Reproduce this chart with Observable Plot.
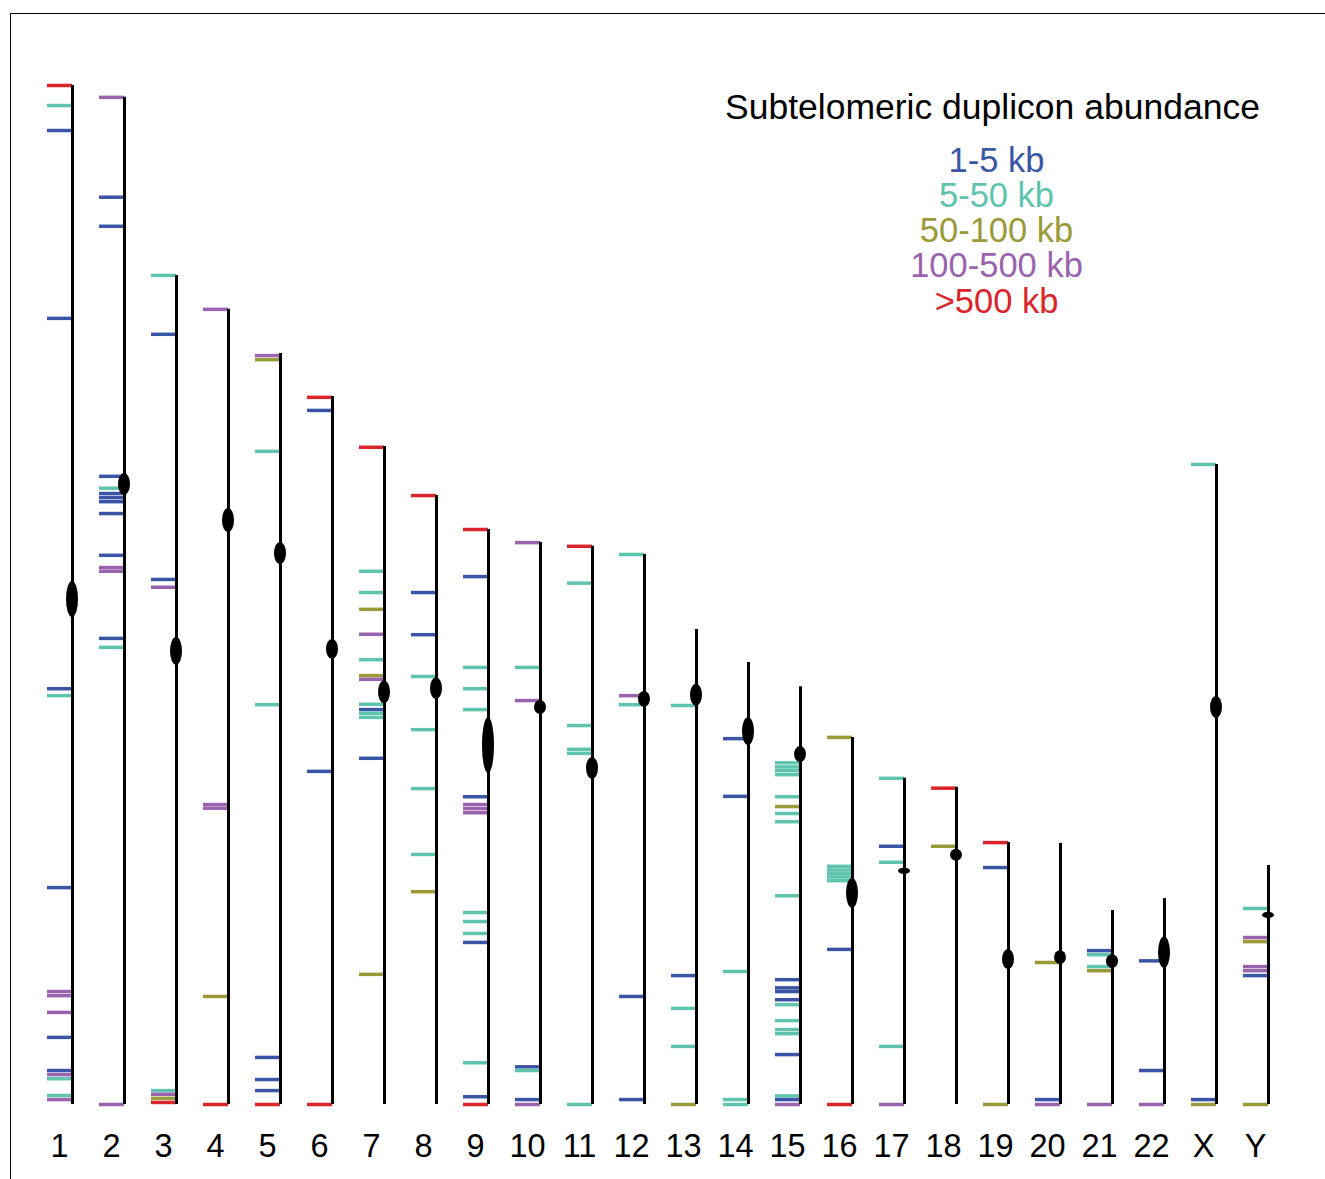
<!DOCTYPE html>
<html><head><meta charset="utf-8">
<script src="https://cdn.jsdelivr.net/npm/d3@7"></script>
<script src="https://cdn.jsdelivr.net/npm/@observablehq/plot@0.6"></script>
<style>
html,body{margin:0;padding:0;background:#fff;}
#wrap{position:relative;width:1325px;height:1179px;overflow:hidden;}
#frame{position:absolute;left:10px;top:13px;right:-5px;bottom:-5px;border-left:1px solid #000;border-top:1px solid #000;pointer-events:none;}
</style></head><body><div id="wrap"><div id="frame"></div></div>
<script>
// Chromosomes, lengths (Mb) and centromeres (position from p-ter, span, Mb)
const chromosomes = ["1","2","3","4","5","6","7","8","9","10","11","12","13","14","15","16","17","18","19","20","21","22","X","Y"];
const lengths = [249.0, 246.1, 202.6, 194.3, 183.5, 173.0, 160.8, 148.8, 140.5, 137.3, 136.4, 134.4, 116.1, 108.0, 102.1, 89.7, 79.7, 77.5, 64.0, 63.8, 47.4, 50.3, 156.4, 58.4];
const centromerePos = [125.6, 94.6, 91.9, 51.6, 48.9, 61.8, 60.1, 47.2, 52.8, 40.3, 54.3, 35.4, 16.1, 16.9, 16.6, 38.1, 22.7, 16.6, 28.6, 27.9, 12.5, 13.2, 59.4, 12.2];
const centromereSpan = [8.8, 5.4, 6.8, 5.9, 5.4, 4.9, 5.6, 5.4, 13.7, 3.4, 5.4, 3.9, 5.4, 6.8, 3.9, 7.3, 1.5, 2.9, 4.9, 3.4, 3.4, 7.6, 5.4, 1.5];

// Duplicon size classes
const categories = ["1-5 kb", "5-50 kb", "50-100 kb", "100-500 kb", ">500 kb"];
const colors = ["#3a55a5", "#5ec4ae", "#9a9a38", "#9a63ae", "#d9252b"];
const legendTitle = "Subtelomeric duplicon abundance";

// Duplicons: [chromosome, position from p-ter (Mb), size class index]
const duplicons = [
  ["1",0,4],["1",4.9,1],["1",11.0,0],["1",56.9,0],["1",147.4,0],["1",149.1,1],["1",196.0,0],["1",221.4,3],["1",222.4,3],["1",226.5,3],["1",232.6,0],["1",240.7,0],["1",241.7,3],["1",242.7,1],["1",246.8,1],["1",247.8,3],
  ["2",0,3],["2",24.4,0],["2",31.5,0],["2",92.6,0],["2",95.5,1],["2",96.8,0],["2",97.8,0],["2",98.8,0],["2",101.7,0],["2",111.9,0],["2",114.9,3],["2",115.8,3],["2",132.2,0],["2",134.4,1],["2",246.1,3],
  ["3",0,1],["3",14.4,0],["3",74.3,0],["3",76.2,3],["3",199.2,1],["3",200.1,3],["3",201.1,2],["3",202.1,4],
  ["4",0,3],["4",121.0,3],["4",121.9,3],["4",167.9,2],["4",194.3,4],
  ["5",0.5,3],["5",1.5,2],["5",23.9,1],["5",85.8,1],["5",172.0,0],["5",177.4,0],["5",180.1,0],["5",183.5,4],
  ["6",0.2,4],["6",3.4,0],["6",91.6,0],["6",173.0,4],
  ["7",0.2,4],["7",30.5,1],["7",35.7,1],["7",39.8,2],["7",45.9,3],["7",52.1,1],["7",56.0,2],["7",56.9,3],["7",63.0,1],["7",64.3,0],["7",65.2,1],["7",66.2,1],["7",76.2,0],["7",129.0,2],
  ["8",0,4],["8",23.7,0],["8",34.0,0],["8",44.2,1],["8",57.2,1],["8",71.6,1],["8",87.7,1],["8",96.8,2],
  ["9",0,4],["9",11.5,0],["9",33.7,1],["9",38.9,1],["9",44.0,1],["9",65.3,0],["9",67.2,3],["9",68.2,3],["9",69.2,3],["9",93.6,1],["9",95.8,1],["9",98.7,1],["9",100.9,0],["9",130.3,1],["9",138.6,0],["9",140.5,4],
  ["10",0,3],["10",30.5,1],["10",38.6,3],["10",128.1,0],["10",129.0,1],["10",136.1,0],["10",137.3,3],
  ["11",0,4],["11",9.0,1],["11",43.8,1],["11",49.6,1],["11",50.6,1],["11",136.4,1],
  ["12",0,1],["12",34.5,3],["12",36.7,1],["12",108.0,0],["12",133.2,0],
  ["13",18.6,1],["13",84.6,0],["13",92.6,1],["13",101.9,1],["13",116.1,2],
  ["14",18.6,0],["14",32.7,0],["14",75.5,1],["14",106.8,1],["14",108.0,1],
  ["15",18.6,1],["15",19.6,1],["15",20.5,1],["15",21.5,1],["15",26.9,1],["15",29.3,2],["15",31.0,1],["15",33.0,1],["15",51.1,1],["15",71.6,0],["15",73.6,0],["15",74.5,0],["15",76.5,0],["15",77.7,1],["15",81.6,1],["15",83.8,1],["15",84.8,1],["15",89.9,0],["15",100.0,1],["15",100.9,0],["15",102.1,3],
  ["16",0,2],["16",31.5,1],["16",32.4,1],["16",33.2,1],["16",34.1,1],["16",35.0,1],["16",51.8,0],["16",89.7,4],
  ["17",0,1],["17",16.6,0],["17",20.5,1],["17",65.5,1],["17",79.7,3],
  ["18",0.2,4],["18",14.4,2],
  ["19",0,4],["19",6.1,0],["19",64.0,2],
  ["20",29.1,2],["20",62.6,0],["20",63.8,3],
  ["21",9.8,0],["21",10.8,1],["21",13.7,1],["21",14.7,2],["21",47.4,3],
  ["22",15.2,0],["22",42.0,0],["22",50.3,3],
  ["X",0,1],["X",155.2,0],["X",156.4,2],
  ["Y",10.5,1],["Y",17.6,3],["Y",18.6,2],["Y",24.7,3],["Y",25.7,3],["Y",26.9,0],["Y",58.4,2]
];

const idx = new Map(chromosomes.map((c, i) => [c, i]));
const tickRows = duplicons.map(([c, p, k]) => ({i: idx.get(c), y: lengths[idx.get(c)] - p, cat: categories[k]}));
const chrRows = chromosomes.map((c, i) => ({i, name: c, len: lengths[i]}));
const cenRows = chromosomes.map((c, i) => ({
  i,
  y1: lengths[i] - centromerePos[i] - centromereSpan[i] / 2,
  y2: lengths[i] - centromerePos[i] + centromereSpan[i] / 2
}));

const font = "'Liberation Sans', Arial, Helvetica, sans-serif";

const chart = Plot.plot({
  width: 1325,
  height: 1179,
  margin: 0,
  x: {type: "linear", domain: [0, chromosomes.length - 1], range: [72, 1268], axis: null},
  y: {domain: [0, d3.max(lengths)], range: [1104, 85], axis: null},
  color: {domain: categories, range: colors},
  style: {fontFamily: font, background: "transparent", overflow: "visible"},
  marks: [
    Plot.ruleY(tickRows, {x1: "i", x2: "i", y: "y", stroke: "cat", strokeWidth: 3.5, insetLeft: -25}),
    Plot.ruleX(chrRows, {x: "i", y1: 0, y2: "len", stroke: "black", strokeWidth: 3}),
    Plot.rect(cenRows, {x1: "i", x2: "i", y1: "y1", y2: "y2", fill: "black", insetLeft: -6, insetRight: -6, rx: 100, ry: 100}),
    Plot.text(chrRows, {x: "i", y: 0, text: "name", dx: -13, dy: 29, lineAnchor: "top", textAnchor: "middle", fontSize: 32.5, fill: "black"}),
    Plot.text([legendTitle], {frameAnchor: "top-left", dx: 992, dy: 107, text: d => d, textAnchor: "middle", lineAnchor: "middle", fontSize: 35.5, fill: "black"}),
    ...categories.map((c, i) => Plot.text([c], {frameAnchor: "top-left", dx: 996, dy: 160 + 35.3 * i, text: d => d, textAnchor: "middle", lineAnchor: "middle", fontSize: 34.5, fill: colors[i]}))
  ]
});
chart.style.position = "absolute";
chart.style.left = "0px";
chart.style.top = "0px";
document.getElementById("wrap").appendChild(chart);
</script>
</body></html>
